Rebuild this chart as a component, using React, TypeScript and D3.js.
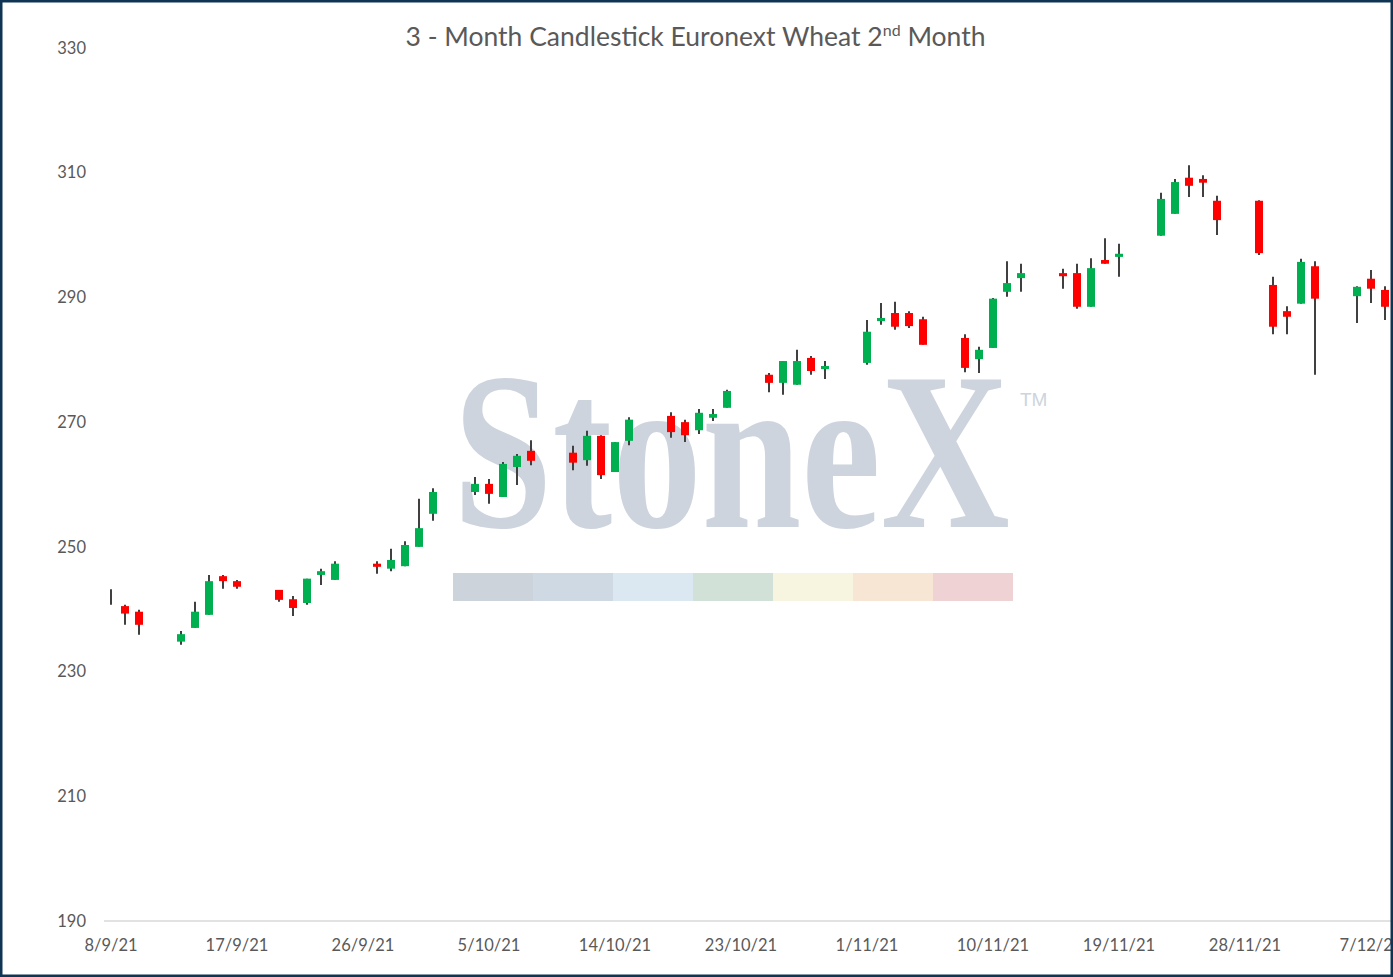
import React, { useEffect, useRef } from 'react';
import * as d3 from 'd3';

// daily OHLC, Euronext wheat 2nd month
const dates = [
  "2021-09-08", "2021-09-09", "2021-09-10", "2021-09-13", "2021-09-14", "2021-09-15", "2021-09-16", "2021-09-17",
  "2021-09-20", "2021-09-21", "2021-09-22", "2021-09-23", "2021-09-24", "2021-09-27", "2021-09-28", "2021-09-29",
  "2021-09-30", "2021-10-01", "2021-10-04", "2021-10-05", "2021-10-06", "2021-10-07", "2021-10-08", "2021-10-11",
  "2021-10-12", "2021-10-13", "2021-10-14", "2021-10-15", "2021-10-18", "2021-10-19", "2021-10-20", "2021-10-21",
  "2021-10-22", "2021-10-25", "2021-10-26", "2021-10-27", "2021-10-28", "2021-10-29", "2021-11-01", "2021-11-02",
  "2021-11-03", "2021-11-04", "2021-11-05", "2021-11-08", "2021-11-09", "2021-11-10", "2021-11-11", "2021-11-12",
  "2021-11-15", "2021-11-16", "2021-11-17", "2021-11-18", "2021-11-19", "2021-11-22", "2021-11-23", "2021-11-24",
  "2021-11-25", "2021-11-26", "2021-11-29", "2021-11-30", "2021-12-01", "2021-12-02", "2021-12-03", "2021-12-06",
  "2021-12-07", "2021-12-08",
];
const opens = [
  242.0, 240.5, 239.6, 234.8, 237.0, 239.1, 245.3, 244.5,
  243.1, 241.6, 241.0, 245.5, 244.7, 247.3, 246.5, 246.9,
  250.0, 255.3, 258.8, 260.1, 258.0, 262.8, 265.4, 265.1,
  263.9, 267.8, 262.0, 267.0, 271.0, 270.0, 268.7, 270.7,
  272.3, 277.6, 276.3, 276.0, 280.3, 278.5, 279.5, 286.2,
  287.5, 287.5, 286.5, 283.5, 280.1, 281.9, 290.9, 293.1,
  293.9, 293.9, 288.5, 296.0, 296.5, 299.9, 303.4, 309.2,
  309.0, 305.5, 305.5, 292.0, 287.8, 289.0, 295.0, 290.2,
  293.0, 291.2,
];
const highs = [
  243.2, 240.7, 239.9, 236.5, 241.2, 245.5, 245.5, 244.7,
  243.1, 242.1, 244.9, 246.5, 247.7, 247.7, 249.7, 250.9,
  257.7, 259.4, 261.2, 260.9, 263.6, 264.9, 267.1, 266.2,
  268.6, 267.9, 266.8, 270.8, 271.6, 270.4, 272.1, 272.1,
  275.2, 277.9, 279.8, 281.6, 280.6, 279.8, 286.4, 289.1,
  289.3, 287.8, 286.9, 284.1, 282.1, 289.9, 295.8, 295.4,
  294.6, 295.4, 296.3, 299.5, 298.6, 306.8, 309.0, 311.2,
  309.6, 306.3, 305.6, 293.3, 288.6, 296.2, 295.8, 291.8,
  294.4, 291.8,
];
const lows = [
  240.7, 237.5, 235.9, 234.3, 237.0, 239.1, 243.3, 243.3,
  241.2, 238.9, 240.7, 243.9, 244.7, 245.7, 246.1, 246.9,
  250.0, 254.2, 258.3, 256.9, 258.0, 259.9, 263.1, 262.3,
  263.0, 260.9, 262.0, 266.3, 267.5, 266.8, 268.1, 270.2,
  272.3, 274.8, 274.4, 276.0, 277.6, 276.9, 279.2, 285.6,
  284.8, 285.1, 282.4, 278.0, 277.9, 281.9, 290.1, 290.9,
  291.4, 288.2, 288.5, 295.4, 293.3, 299.9, 303.4, 306.1,
  306.1, 300.0, 296.8, 284.1, 284.1, 289.0, 277.6, 285.9,
  289.1, 286.4,
];
const closes = [
  242.0, 239.3, 237.5, 236.0, 239.6, 244.5, 244.5, 243.6,
  241.5, 240.2, 244.9, 246.1, 247.3, 246.8, 247.9, 250.3,
  253.0, 258.8, 260.1, 258.5, 263.3, 264.6, 263.8, 263.5,
  267.8, 261.5, 266.8, 270.4, 268.4, 267.9, 271.5, 271.3,
  275.0, 276.3, 279.8, 279.8, 278.2, 279.0, 284.5, 286.7,
  285.3, 285.4, 282.4, 278.7, 281.6, 289.8, 292.3, 293.9,
  293.4, 288.5, 294.7, 295.4, 297.0, 305.8, 308.5, 307.9,
  308.4, 302.4, 297.1, 285.3, 286.9, 295.7, 289.8, 291.7,
  291.4, 288.5,
];

const yTicks = [190, 210, 230, 250, 270, 290, 310, 330];
const xTickDates = ["2021-09-08", "2021-09-17", "2021-09-26", "2021-10-05", "2021-10-14", "2021-10-23", "2021-11-01", "2021-11-10", "2021-11-19", "2021-11-28", "2021-12-07"];
const xTickLabels = ["8/9/21", "17/9/21", "26/9/21", "5/10/21", "14/10/21", "23/10/21", "1/11/21", "10/11/21", "19/11/21", "28/11/21", "7/12/21"];

const stripColors = ["#ccd3db", "#cfd9e3", "#dbe8f1", "#d2e1d7", "#f7f5df", "#f7e6d3", "#efd2d4"];

const App: React.FC = () => {
  const svgRef = useRef<SVGSVGElement>(null);

  useEffect(() => {
    if (!svgRef.current) return;

    const svg = d3.select(svgRef.current);
    svg.selectAll("*").remove();

    const width = 1393;
    const height = 977;
    const margin = { top: 48, right: 1, bottom: 56, left: 104 };
    const font = "Lato, 'Liberation Sans', sans-serif";
    const textColor = "#595959";

    const parse = d3.utcParse("%Y-%m-%d");
    const days = dates.map(d => parse(d)!);
    const candles = days.map((d, i) => ({ date: d, o: opens[i], h: highs[i], l: lows[i], c: closes[i] }));

    const x = d3.scaleUtc()
      .domain([d3.utcHour.offset(days[0], -12), d3.utcHour.offset(days[days.length - 1], 12)])
      .range([margin.left, width - margin.right]);
    const y = d3.scaleLinear().domain([190, 330]).range([height - margin.bottom, margin.top]);

    svg.append("rect").attr("width", width).attr("height", height).attr("fill", "#fff");

    // watermark
    const wm = svg.append("g");
    wm.append("text")
      .attr("x", 453).attr("y", 527)
      .attr("font-family", "'Liberation Serif', 'DejaVu Serif', serif")
      .attr("font-size", 224)
      .attr("font-weight", "bold")
      .attr("textLength", 557)
      .attr("lengthAdjust", "spacingAndGlyphs")
      .attr("fill", "#cdd4dd")
      .text("StoneX");
    wm.append("text")
      .attr("x", 1020).attr("y", 406)
      .attr("font-family", "'Liberation Sans', sans-serif")
      .attr("font-size", 19)
      .attr("fill", "#cdd4dd")
      .text("TM");
    wm.selectAll(".strip")
      .data(stripColors)
      .enter().append("rect")
      .attr("x", (_, i) => 453 + i * 80)
      .attr("y", 573)
      .attr("width", 80)
      .attr("height", 28)
      .attr("fill", d => d);

    // title
    const title = svg.append("text")
      .attr("x", 695.5).attr("y", 46)
      .attr("text-anchor", "middle")
      .attr("font-family", font)
      .attr("font-size", 26.5)
      .attr("fill", textColor);
    title.append("tspan").text("3 - Month Candlestick Euronext Wheat 2");
    title.append("tspan").attr("dy", -10).attr("font-size", 16).text("nd");
    title.append("tspan").attr("dy", 10).text(" Month");

    // y labels
    svg.selectAll(".ylab")
      .data(yTicks)
      .enter().append("text")
      .attr("x", 86)
      .attr("y", d => y(d))
      .attr("dy", "0.35em")
      .attr("text-anchor", "end")
      .attr("font-family", font)
      .attr("font-size", 16.5)
      .attr("fill", textColor)
      .text(d => d);

    // x axis line + labels
    svg.append("line")
      .attr("x1", margin.left).attr("x2", width - margin.right)
      .attr("y1", y(190)).attr("y2", y(190))
      .attr("stroke", "#d9d9d9")
      .attr("stroke-width", 1.5);

    svg.selectAll(".xlab")
      .data(xTickDates)
      .enter().append("text")
      .attr("x", d => x(parse(d)!))
      .attr("y", 951)
      .attr("text-anchor", "middle")
      .attr("font-family", font)
      .attr("font-size", 16.5)
      .attr("fill", textColor)
      .text((_, i) => xTickLabels[i]);

    // candles
    const bodyW = 8;
    const g = svg.append("g");
    g.selectAll(".wick")
      .data(candles)
      .enter().append("line")
      .attr("x1", d => x(d.date)).attr("x2", d => x(d.date))
      .attr("y1", d => y(d.h)).attr("y2", d => y(d.l))
      .attr("stroke", "#404040")
      .attr("stroke-width", 2);
    g.selectAll(".body")
      .data(candles.filter(d => d.o !== d.c))
      .enter().append("rect")
      .attr("x", d => x(d.date) - bodyW / 2)
      .attr("y", d => y(Math.max(d.o, d.c)))
      .attr("width", bodyW)
      .attr("height", d => Math.abs(y(d.o) - y(d.c)))
      .attr("fill", d => (d.c > d.o ? "#00b050" : "#ff0000"));

    // outer border
    svg.append("rect")
      .attr("x", 1.25).attr("y", 1.25)
      .attr("width", width - 2.5).attr("height", height - 2.5)
      .attr("fill", "none")
      .attr("stroke", "#0f3454")
      .attr("stroke-width", 2.5);
  }, []);

  return (
    <div style={{ position: "absolute", left: 0, top: 0 }}>
      <svg ref={svgRef} width={1393} height={977} style={{ display: "block" }} />
    </div>
  );
};

export default App;
